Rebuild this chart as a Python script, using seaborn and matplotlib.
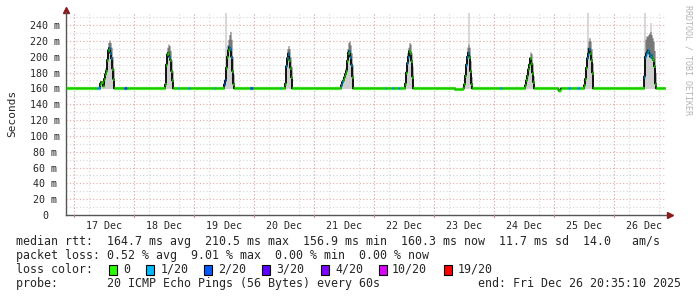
import numpy as np
import pandas as pd
import matplotlib
matplotlib.use("Agg")
import matplotlib.pyplot as plt
import seaborn as sns
from matplotlib.patches import Rectangle

# ---------------- data ----------------
# x axis: days since 17 Dec 00:00, one consolidated sample every 24 min
sample_step = 1 / 60
x_start, x_end = -8 / 60, 10 - 8 / 60
baseline_rtt = 160.0  # ms

day_label_pos = [0.5, 1.5, 2.5, 3.5, 4.5, 5.5, 6.5, 7.5, 8.5, 9.5]
day_labels = ["17 Dec", "18 Dec", "19 Dec", "20 Dec", "21 Dec",
              "22 Dec", "23 Dec", "24 Dec", "25 Dec", "26 Dec"]
y_ticks = [0, 20, 40, 60, 80, 100, 120, 140, 160, 180, 200, 220, 240]
y_tick_labels = ["0", "20 m", "40 m", "60 m", "80 m", "100 m", "120 m",
                 "140 m", "160 m", "180 m", "200 m", "220 m", "240 m"]

# daily latency peaks (median rtt and top of smoke, ms)
peak_starts = [0.417, 1.500, 2.483, 3.500, 4.433, 5.500, 6.483, 7.500, 8.483, 9.483]
peak_medians = [
    [160, 166, 168, 168, 163, 172, 178, 182, 196, 208, 211, 205, 198, 185, 172, 160],
    [160, 165, 190, 203, 205, 200, 196, 182, 170, 160],
    [160, 165, 170, 186, 200, 208, 212, 210, 200, 182, 166, 160],
    [160, 166, 188, 198, 204, 196, 186, 174, 160],
    [160, 164, 168, 170, 174, 178, 182, 195, 205, 207, 200, 190, 175, 160],
    [160, 166, 180, 192, 200, 207, 205, 195, 175, 160],
    [160, 165, 176, 190, 200, 205, 200, 182, 166, 160],
    [160, 164, 170, 176, 184, 190, 198, 192, 180, 168, 160],
    [160, 164, 172, 186, 198, 204, 210, 205, 196, 180, 160],
    [160, 175, 200, 204, 206, 208, 204, 200, 202, 198, 196, 188, 166, 160],
]
peak_smoke_hi = [
    [160, 168, 170, 170, 168, 178, 186, 195, 210, 218, 221, 218, 212, 200, 185, 160],
    [160, 170, 200, 212, 216, 214, 208, 196, 182, 160],
    [160, 170, 180, 200, 215, 222, 228, 232, 222, 200, 178, 160],
    [160, 172, 200, 210, 214, 210, 200, 188, 160],
    [160, 166, 170, 174, 180, 186, 195, 210, 218, 220, 215, 205, 190, 160],
    [160, 170, 190, 205, 212, 218, 216, 205, 188, 160],
    [160, 168, 185, 200, 212, 216, 212, 195, 175, 160],
    [160, 166, 174, 182, 190, 198, 206, 204, 192, 176, 160],
    [160, 168, 182, 200, 212, 220, 224, 220, 210, 192, 160],
    [160, 190, 222, 226, 226, 228, 230, 232, 228, 224, 220, 208, 180, 160],
]
# small dips below the baseline
dip_starts = [6.350, 8.067]
dip_values = [
    [158.6, 158.6, 158.6, 158.6, 158.6, 158.6, 158.6, 158.6],
    [158.4, 156.9, 158.2],
]
# tall light-grey smoke spikes (single pings)
spike_times = [2.517, 6.567, 8.550, 9.500, 9.600]
spike_tops = [255, 255, 255, 255, 242]

# loss colouring of the median line: (from, to, level index)
loss_intervals = [
    (0.367, 0.433, 1), (0.583, 0.617, 1), (0.817, 0.867, 2),
    (1.567, 1.600, 1), (1.733, 1.750, 1), (1.900, 1.917, 1), (2.333, 2.350, 1),
    (2.500, 2.517, 2), (2.583, 2.617, 1), (2.933, 2.967, 2),
    (3.417, 3.450, 1), (3.533, 3.567, 1),
    (4.450, 4.483, 1), (4.583, 4.617, 1), (5.067, 5.083, 1), (5.183, 5.200, 1),
    (5.300, 5.317, 1), (5.400, 5.417, 1), (5.550, 5.583, 1),
    (6.533, 6.567, 1), (6.767, 6.783, 1), (7.100, 7.117, 1), (7.267, 7.283, 1),
    (8.233, 8.283, 1), (8.367, 8.433, 1), (8.550, 8.600, 1),
    (9.500, 9.517, 1), (9.533, 9.617, 1),
]
loss_levels = ["0", "1/20", "2/20", "3/20", "4/20", "10/20", "19/20"]
loss_colors = ["#26ff00", "#00b8ff", "#0059ff", "#5e00ff", "#7e00ff", "#dd00ff", "#ff0000"]

stats_line = "median rtt:  164.7 ms avg  210.5 ms max  156.9 ms min  160.3 ms now  11.7 ms sd  14.0   am/s"
loss_line = "packet loss: 0.52 % avg  9.01 % max  0.00 % min  0.00 % now"
probe_line = "probe:       20 ICMP Echo Pings (56 Bytes) every 60s"
end_line = "end: Fri Dec 26 20:35:10 2025"

# ---------------- assemble series ----------------
n = int(round((x_end - x_start) / sample_step))
t = x_start + np.arange(n) * sample_step
med = np.full(n, baseline_rtt)
hi = np.full(n, baseline_rtt)
for s, vals, tops in zip(peak_starts, peak_medians, peak_smoke_hi):
    i0 = int(round((s - x_start) / sample_step))
    med[i0:i0 + len(vals)] = vals
    hi[i0:i0 + len(tops)] = tops
for s, vals in zip(dip_starts, dip_values):
    i0 = int(round((s - x_start) / sample_step))
    med[i0:i0 + len(vals)] = vals
    hi[i0:i0 + len(vals)] = vals
loss = np.zeros(n, dtype=int)
for a, b, lvl in loss_intervals:
    loss[(t >= a - 1e-6) & (t < b - 1e-6)] = lvl
df = pd.DataFrame({"t": t, "median": med, "hi": hi, "loss": loss})

# ---------------- figure ----------------
W, H = 697, 297
sns.set_style("white")
plt.rcParams["font.family"] = ["DejaVu Sans Mono", "DejaVu Sans"]
fig = plt.figure(figsize=(W / 100, H / 100), dpi=100)
fig.patch.set_facecolor("white")
L, R, B, T = 66, 666, 215, 12
ax = fig.add_axes([L / W, (H - B) / H, (R - L) / W, (B - T) / H])
ax.set_facecolor("white")
ax.set_xlim(x_start, x_end)
ax.set_ylim(0, 256.5)

# grid
minor_c = "#d6d6d6"
major_c = "#e6a8a8"
ax.set_xticks(np.arange(0, 10, 0.25), minor=True)
ax.set_yticks(np.arange(10, 256, 10), minor=True)
ax.grid(which="minor", color=minor_c, lw=0.8, ls=(0, (1, 2)))
for d in range(0, 10):
    ax.axvline(d, color=major_c, lw=0.8, ls=(0, (1, 2)), zorder=0.6)
for yv in y_ticks[1:]:
    ax.axhline(yv, color=major_c, lw=0.8, ls=(0, (1, 2)), zorder=0.6)
ax.set_axisbelow(True)

# smoke
ax.bar(spike_times, np.array(spike_tops) - baseline_rtt, bottom=baseline_rtt,
       width=2 / 60, align="edge", color="#d8d8d8", lw=0, zorder=1.9)
ax.fill_between(df["t"], baseline_rtt, df["hi"], step="post", color="#cfcfcf", lw=0, zorder=2)
ax.fill_between(df["t"], df["median"], df["hi"], step="post", color="#5a5a5a", lw=0, zorder=2.1, alpha=0.75)

# median line
sns.lineplot(data=df, x="t", y="median", drawstyle="steps-post", color="#111111",
             lw=1.4, ax=ax, zorder=3, legend=False)
ax.hlines(df["median"], df["t"], df["t"] + sample_step,
          colors=[loss_colors[k] for k in df["loss"]], lw=2.3, zorder=4)

# axes / ticks
ax.set_xticks(day_label_pos)
ax.set_xticklabels(day_labels, fontsize=7.2)
ax.set_yticks(y_ticks)
ax.set_yticklabels(y_tick_labels, fontsize=7.2)
for lab in ax.get_yticklabels():
    lab.set_horizontalalignment("center")
ax.tick_params(axis="y", which="major", length=2, color=major_c, pad=13)
ax.tick_params(axis="x", which="major", length=0, pad=4)
ax.tick_params(which="minor", length=0)
ax.set_xlabel("")
ax.set_ylabel("Seconds", fontsize=8)
ax.yaxis.set_label_coords(-(L - 17) / (R - L), 0.5)
for sp in ["top", "right"]:
    ax.spines[sp].set_visible(False)
for sp in ["left", "bottom"]:
    ax.spines[sp].set_color("#555555")
    ax.spines[sp].set_linewidth(1)
# red day ticks below axis
for d in range(0, 10):
    ax.plot([d, d], [0, -3], color="#d08080", lw=0.8, clip_on=False, zorder=5)
# arrows
ax.plot([0], [1.01], marker="^", ms=4, color="#8b1a1a", transform=ax.transAxes, clip_on=False)
ax.plot([1.006], [0], marker=">", ms=4, color="#8b1a1a", transform=ax.transAxes, clip_on=False)

# watermark
fig.text(688 / W, 1 - 60 / H, "RRDTOOL / TOBI OETIKER", rotation=270, fontsize=6,
         color="#b4b4b4", ha="center", va="center")

# legend lines
fs = 8.4
fig.text(16 / W, 1 - 241.5 / H, stats_line, fontsize=fs, va="center", ha="left")
fig.text(16 / W, 1 - 255.5 / H, loss_line, fontsize=fs, va="center", ha="left")
fig.text(16 / W, 1 - 269.5 / H, "loss color:", fontsize=fs, va="center", ha="left")
fig.text(16 / W, 1 - 283.5 / H, probe_line, fontsize=fs, va="center", ha="left")
fig.text(681 / W, 1 - 283.5 / H, end_line, fontsize=fs, va="center", ha="right")
sq_x = [108.7, 146, 204, 262, 320.7, 378.6, 443.6]
lab_x = [123.4, 160.4, 218, 276.6, 335, 392, 458]
for sx, lx, c, lbl in zip(sq_x, lab_x, loss_colors, loss_levels):
    fig.add_artist(Rectangle((sx / W, 1 - 274.5 / H), 8 / W, 10 / H, transform=fig.transFigure,
                             facecolor=c, edgecolor="black", lw=0.8))
    fig.text(lx / W, 1 - 269.5 / H, lbl, fontsize=fs, va="center", ha="left")

fig.savefig("out.png", dpi=100, facecolor="white")
